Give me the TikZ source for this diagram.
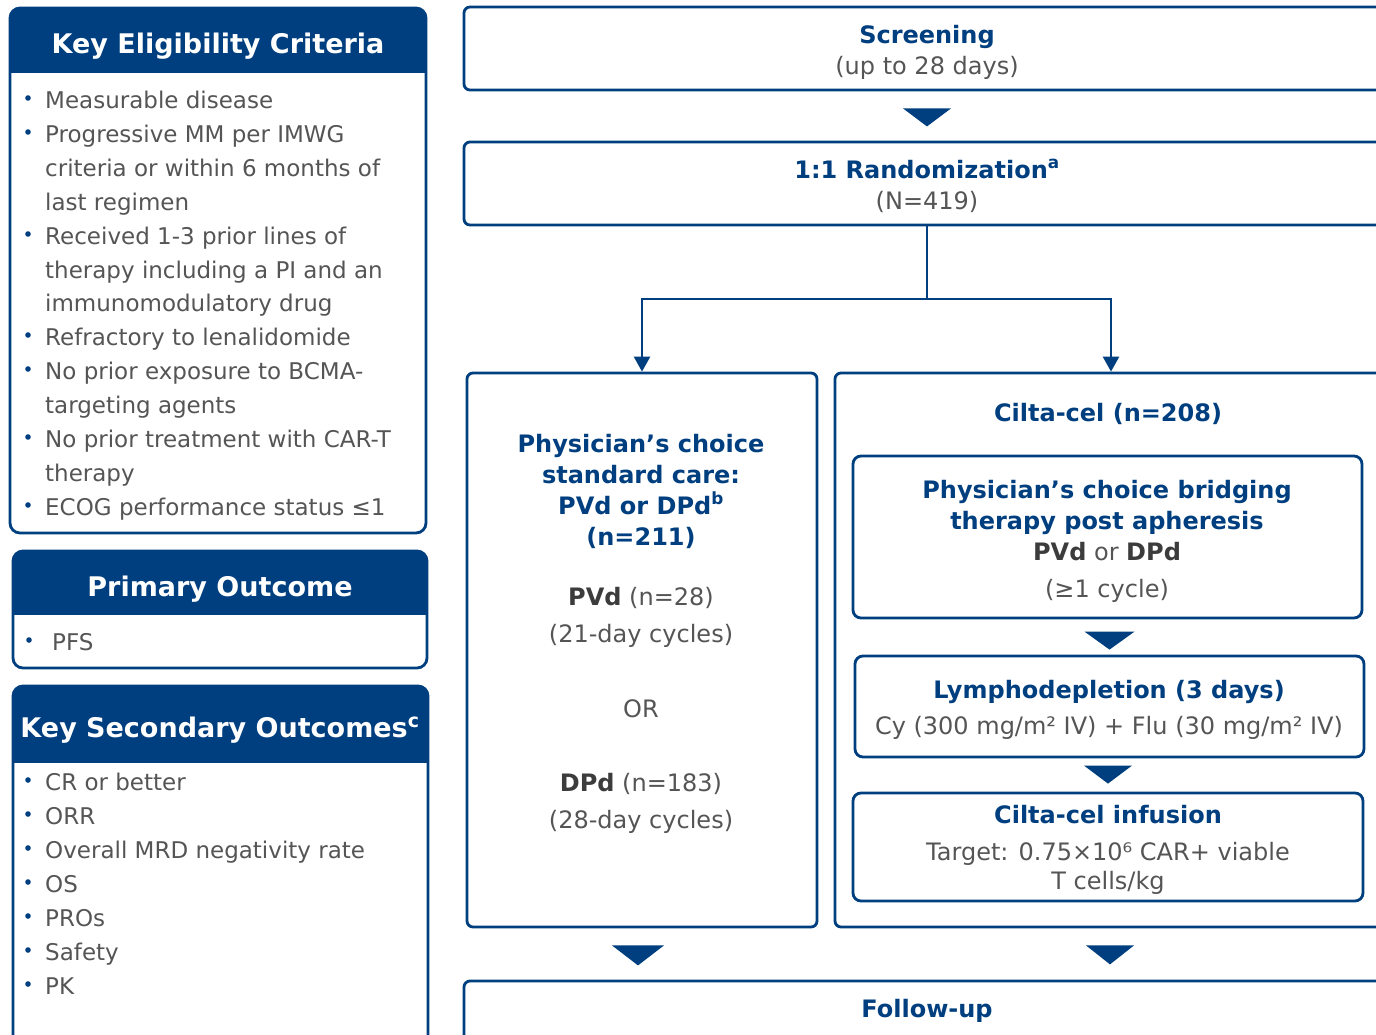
\documentclass[tikz,border=0pt]{standalone}
\usepackage{fontspec}
\setmainfont{DejaVu Sans}
\usetikzlibrary{arrows.meta,calc}
\definecolor{navy}{RGB}{0,63,127}
\definecolor{txtgray}{RGB}{85,85,85}
\definecolor{dgray}{RGB}{60,60,60}
\begin{document}
\begin{tikzpicture}[x=1pt,y=-1pt,
  lframe/.style={draw=navy,line width=2.8pt,rounded corners=10pt,inner sep=0pt},
  fframe/.style={draw=navy,line width=2.8pt,rounded corners=6pt,inner sep=0pt},
  iframe/.style={draw=navy,line width=2.8pt,rounded corners=8pt,inner sep=0pt},
  conn/.style={draw=navy,line width=2.6pt},
  tip/.style={-{Triangle[width=16pt,length=15pt]}},
  hdr/.style={font=\fontsize{27}{32}\selectfont\bfseries,text=white,anchor=base,inner sep=0pt},
  body/.style={font=\fontsize{23}{34}\selectfont,text=txtgray,anchor=base west,inner sep=0pt},
  fbold/.style={font=\fontsize{24}{31}\selectfont\bfseries,text=navy,anchor=base,inner sep=0pt},
  freg/.style={font=\fontsize{24}{31}\selectfont,text=txtgray,anchor=base,inner sep=0pt},
  dot/.style={fill=navy}
]
\useasboundingbox (0,0) rectangle (1376,1034);
\fill[white] (0,0) rectangle (1376,1034);
\clip (0,0) rectangle (1376,1034);

% ---------- left column ----------
\begin{scope}
  \clip[rounded corners=10pt] (10,8) rectangle (426,533);
  \fill[navy] (10,8) rectangle (426,73);
\end{scope}
\node[lframe,minimum width=416pt,minimum height=525pt] (elig) at (218,270.5) {};
\node[hdr] (eligh) at (218,53) {Key Eligibility Criteria};

\node[body] (e1) at (45,108) {Measurable disease};
\node[body] (e2) at (45,142) {Progressive MM per IMWG};
\node[body] (e3) at (45,176) {criteria or within 6 months of};
\node[body] (e4) at (45,210) {last regimen};
\node[body] (e5) at (45,244) {Received 1-3 prior lines of};
\node[body] (e6) at (45,278) {therapy including a PI and an};
\node[body] (e7) at (45,311) {immunomodulatory drug};
\node[body] (e8) at (45,345) {Refractory to lenalidomide};
\node[body] (e9) at (45,379) {No prior exposure to BCMA-};
\node[body] (e10) at (45,413) {targeting agents};
\node[body] (e11) at (45,447) {No prior treatment with CAR-T};
\node[body] (e12) at (45,481) {therapy};
\node[body] (e13) at (45,515) {ECOG performance status ≤1};
\foreach \b in {108,142,244,345,379,447,515}
  \fill[dot] (28,\b-10) circle (2.8pt);

\begin{scope}
  \clip[rounded corners=10pt] (13,551) rectangle (427,668);
  \fill[navy] (13,551) rectangle (427,615);
\end{scope}
\node[lframe,minimum width=414pt,minimum height=117pt] (prim) at (220,609.5) {};
\node[hdr] (primh) at (220,596) {Primary Outcome};
\node[body] (p1) at (52,650) {PFS};
\fill[dot] (29,640) circle (2.8pt);

\begin{scope}
  \clip[rounded corners=10pt] (13,686) rectangle (428,1060);
  \fill[navy] (13,686) rectangle (428,763);
\end{scope}
\node[lframe,minimum width=415pt,minimum height=374pt] (sec) at (220.5,873) {};
\node[hdr] (sech) at (220,737) {Key Secondary Outcomes\textsuperscript{c}};
\node[body] (s1) at (45,790) {CR or better};
\node[body] (s2) at (45,824) {ORR};
\node[body] (s3) at (45,858) {Overall MRD negativity rate};
\node[body] (s4) at (45,892) {OS};
\node[body] (s5) at (45,926) {PROs};
\node[body] (s6) at (45,960) {Safety};
\node[body] (s7) at (45,994) {PK};
\foreach \b in {790,824,858,892,926,960,994}
  \fill[dot] (28,\b-10) circle (2.8pt);

% ---------- flow ----------
\node[fframe,minimum width=926pt,minimum height=83pt] (scr) at (927,48.5) {};
\node[fbold] (scrt) at (927,43) {Screening};
\node[freg] (scrd) at (927,74) {(up to 28 days)};

\node[fframe,minimum width=926pt,minimum height=83pt] (rand) at (927,183.5) {};
\node[fbold] (randt) at (927,178) {1:1 Randomization\textsuperscript{a}};
\node[freg] (randn) at (927,209) {(N=419)};

\node[fframe,minimum width=350pt,minimum height=554pt] (stdarm) at (642,650) {};
\node[fbold] (sa1) at (641,452) {Physician’s choice};
\node[fbold] (sa2) at (641,483) {standard care:};
\node[fbold] (sa3) at (641,514) {PVd or DPd\textsuperscript{b}};
\node[fbold] (sa4) at (641,545) {(n=211)};
\node[freg] (sa5) at (641,605) {\textcolor{dgray}{\bfseries PVd} (n=28)};
\node[freg] (sa6) at (641,642) {(21-day cycles)};
\node[freg] (sa7) at (641,717) {OR};
\node[freg] (sa8) at (641,791) {\textcolor{dgray}{\bfseries DPd} (n=183)};
\node[freg] (sa9) at (641,828) {(28-day cycles)};

\node[fframe,minimum width=552pt,minimum height=554pt] (cilta) at (1111,650) {};
\node[fbold] (ct) at (1108,421) {Cilta-cel (n=208)};

\node[iframe,minimum width=509pt,minimum height=162pt] (bridge) at (1107.5,537) {};
\node[fbold] (b1) at (1107,498) {Physician’s choice bridging};
\node[fbold] (b2) at (1107,529) {therapy post apheresis};
\node[freg] (b3) at (1107,560) {\textcolor{dgray}{\bfseries PVd} or \textcolor{dgray}{\bfseries DPd}};
\node[freg] (b4) at (1107,597) {(≥1 cycle)};

\node[iframe,minimum width=509pt,minimum height=101pt] (lympho) at (1109.5,706.5) {};
\node[fbold] (l1) at (1109,698) {Lymphodepletion (3 days)};
\node[freg] (l2) at (1109,734) {Cy (300 mg/m² IV) + Flu (30 mg/m² IV)};

\node[iframe,minimum width=510pt,minimum height=108pt] (infuse) at (1108,847) {};
\node[fbold] (i1) at (1108,823) {Cilta-cel infusion};
\node[freg] (i2) at (1108,860) {Target: 0.75×10⁶ CAR+ viable};
\node[freg] (i3) at (1108,889) {T cells/kg};

\node[fframe,minimum width=926pt,minimum height=79pt] (follow) at (927,1020.5) {};
\node[fbold] (ft) at (927,1017) {Follow-up};

% connectors
\coordinate (split) at (927,299);
\draw[conn] (rand.south) -- (split);
\draw[conn,tip] (split) -| (stdarm.north);
\draw[conn,tip] (split) -| (cilta.north);

% block arrows
\fill[navy] ($(scr.south)+(-24,17)$) -- ++(48,0) -- ++(-24,18) -- cycle;
\fill[navy] ($(lympho.north)+(-25,-23)$) -- ++(50,0) -- ++(-25,18) -- cycle;
\fill[navy] ($(infuse.north)+(-24,-26)$) -- ++(48,0) -- ++(-24,18) -- cycle;
\fill[navy] ($(stdarm.south)+(-30,17)$) -- ++(52,0) -- ++(-26,20) -- cycle;
\fill[navy] ($(cilta.south)+(-25,17)$) -- ++(48,0) -- ++(-24,19) -- cycle;
\end{tikzpicture}
\end{document}
